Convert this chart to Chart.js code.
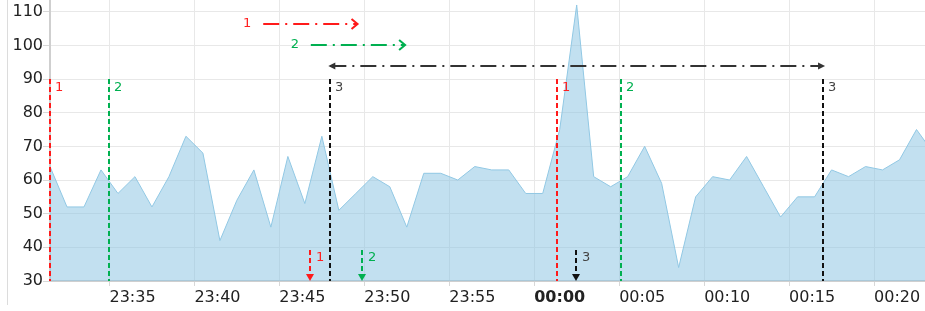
<!DOCTYPE html>
<html>
<head>
<meta charset="utf-8">
<script src="https://cdn.jsdelivr.net/npm/chart.js@4.4.1/dist/chart.umd.min.js"></script>
<style>
  html, body { margin: 0; padding: 0; background: #fff; }
  #wrap { position: relative; width: 925px; height: 311px; }
</style>
</head>
<body>
<div id="wrap"><canvas id="chart" width="925" height="311"></canvas></div>
<script>
// minutes after 23:00, one sample per minute
const times = [31.5, 32.5, 33.5, 34.5, 35.5, 36.5, 37.5, 38.5, 39.5, 40.5,
  41.5, 42.5, 43.5, 44.5, 45.5, 46.5, 47.5, 48.5, 49.5, 50.5,
  51.5, 52.5, 53.5, 54.5, 55.5, 56.5, 57.5, 58.5, 59.5, 60.5,
  61.5, 62.5, 63.5, 64.5, 65.5, 66.5, 67.5, 68.5, 69.5, 70.5,
  71.5, 72.5, 73.5, 74.5, 75.5, 76.5, 77.5, 78.5, 79.5, 80.5,
  81.5, 82.5, 83.5]
const values = [64, 52, 52, 63, 56, 61, 52, 61, 73, 68,
  42, 54, 63, 46, 67, 53, 73, 51, 56, 61,
  58, 46, 62, 62, 60, 64, 63, 63, 56, 56,
  75, 112, 61, 58, 61, 70, 59, 34, 55, 61,
  60, 67, 58, 49, 55, 55, 63, 61, 64, 63,
  66, 75, 68]
const xTicks = [35, 40, 45, 50, 55, 60, 65, 70, 75, 80]
const yTicks = [30, 40, 50, 60, 70, 80, 90, 100, 110]

// annotation marks
const markerTimes = [31.5, 35, 48, 61.35, 65.1, 77]
const markerLabels = ['1', '2', '3', '1', '2', '3']
const markerTop = 90
const rangeStart = [44.05, 46.85, 48]
const rangeEnd = [49.6, 52.4, 77]
const rangeLevel = [106.3, 100.1, 94]
const rangeLabels = ['1', '2', '']
const eventTimes = [46.8, 49.85, 62.45]
const eventLabels = ['1', '2', '3']
const eventTop = 39.2

const lineColors = ['#ff1a1a', '#00b050', '#111111']
const textColors = ['#ff2020', '#00b050', '#444444']
const rangeColors = ['#ff1a1a', '#00b050', '#333333']
const FONT = '"DejaVu Sans", Verdana, sans-serif'

const fmt = (v) => {
  const total = 23 * 60 + v
  const h = Math.floor(total / 60) % 24
  const m = Math.round(total % 60)
  return String(h).padStart(2, '0') + ':' + String(m).padStart(2, '0')
}

const annotations = {
  id: 'annotations',
  beforeDraw(chart) {
    const ctx = chart.ctx
    ctx.save()
    ctx.strokeStyle = '#dcdcdc'
    ctx.lineWidth = 1
    ctx.beginPath()
    ctx.moveTo(7.5, 0)
    ctx.lineTo(7.5, 305)
    ctx.stroke()
    ctx.restore()
  },
  afterDatasetsDraw(chart) {
    const { ctx, scales: { x, y } } = chart
    ctx.save()
    ctx.font = '13px ' + FONT
    ctx.textBaseline = 'top'
    ctx.lineWidth = 2

    // vertical dashed markers
    markerTimes.forEach((t, i) => {
      const c = i % 3
      const px = Math.round(x.getPixelForValue(t))
      const top = y.getPixelForValue(markerTop)
      ctx.strokeStyle = lineColors[c]
      ctx.setLineDash([5, 3])
      ctx.beginPath()
      ctx.moveTo(px, top)
      ctx.lineTo(px, y.getPixelForValue(30))
      ctx.stroke()
      ctx.fillStyle = textColors[c]
      ctx.textAlign = 'left'
      ctx.fillText(markerLabels[i], px + 5, top + 2)
    })

    // horizontal ranges
    rangeStart.forEach((t, i) => {
      const x0 = x.getPixelForValue(t)
      const x1 = x.getPixelForValue(rangeEnd[i])
      const yy = Math.round(y.getPixelForValue(rangeLevel[i]))
      ctx.strokeStyle = rangeColors[i]
      ctx.fillStyle = rangeColors[i]
      ctx.setLineDash([16, 6, 2, 6])
      ctx.beginPath()
      ctx.moveTo(x0, yy)
      ctx.lineTo(x1, yy)
      ctx.stroke()
      ctx.setLineDash([])
      if (i < 2) {
        ctx.beginPath()
        ctx.moveTo(x1 - 6, yy - 5)
        ctx.lineTo(x1, yy)
        ctx.lineTo(x1 - 6, yy + 5)
        ctx.stroke()
      } else {
        ctx.beginPath()
        ctx.moveTo(x0 - 2, yy)
        ctx.lineTo(x0 + 5, yy - 3.5)
        ctx.lineTo(x0 + 5, yy + 3.5)
        ctx.closePath()
        ctx.fill()
        ctx.beginPath()
        ctx.moveTo(x1 + 2, yy)
        ctx.lineTo(x1 - 5, yy - 3.5)
        ctx.lineTo(x1 - 5, yy + 3.5)
        ctx.closePath()
        ctx.fill()
      }
      if (rangeLabels[i]) {
        ctx.fillStyle = textColors[i]
        ctx.textAlign = 'center'
        ctx.textBaseline = 'middle'
        ctx.fillText(rangeLabels[i], x0 - 16, yy)
        ctx.textBaseline = 'top'
      }
    })

    // small event arrows on the bottom
    eventTimes.forEach((t, i) => {
      const px = Math.round(x.getPixelForValue(t))
      const top = y.getPixelForValue(eventTop)
      const bottom = y.getPixelForValue(30)
      ctx.strokeStyle = lineColors[i]
      ctx.fillStyle = lineColors[i]
      ctx.setLineDash([5, 3])
      ctx.beginPath()
      ctx.moveTo(px, top)
      ctx.lineTo(px, bottom - 6)
      ctx.stroke()
      ctx.setLineDash([])
      ctx.beginPath()
      ctx.moveTo(px - 4, bottom - 7)
      ctx.lineTo(px + 4, bottom - 7)
      ctx.lineTo(px, bottom)
      ctx.closePath()
      ctx.fill()
      ctx.fillStyle = textColors[i]
      ctx.textAlign = 'left'
      ctx.fillText(eventLabels[i], px + 6, top + 1)
    })
    ctx.restore()
  }
}

new Chart(document.getElementById('chart'), {
  type: 'line',
  data: {
    labels: times,
    datasets: [{
      data: times.map((t, i) => ({ x: t, y: values[i] })),
      borderColor: 'rgb(145, 200, 228)',
      backgroundColor: 'rgba(133, 193, 225, 0.5)',
      borderWidth: 1,
      fill: 'start',
      pointRadius: 0,
      tension: 0
    }]
  },
  options: {
    responsive: false,
    animation: false,
    layout: { padding: 0 },
    plugins: { legend: { display: false }, tooltip: { enabled: false } },
    scales: {
      x: {
        type: 'linear',
        min: 31.5,
        max: 83,
        afterBuildTicks: (s) => { s.ticks = xTicks.map(v => ({ value: v })) },
        afterFit: (s) => { s.height = 30; s.paddingLeft = 0; s.paddingRight = 0 },
        grid: { color: '#e8e8e8', tickLength: 5, tickColor: '#d8d8d8' },
        border: { color: '#cfcfcf', width: 2 },
        ticks: {
          autoSkip: false,
          maxRotation: 0,
          align: 'start',
          padding: 2,
          color: '#222',
          font: (c) => ({ family: FONT, size: 16, weight: c.tick && c.tick.value === 60 ? 'bold' : 'normal' }),
          callback: (v) => fmt(v)
        }
      },
      y: {
        min: 30,
        max: 113.48,
        afterBuildTicks: (s) => { s.ticks = yTicks.map(v => ({ value: v })) },
        afterFit: (s) => { s.width = 50; s.paddingTop = 0; s.paddingBottom = 0 },
        grid: { color: '#e8e8e8', tickLength: 7, tickColor: '#d8d8d8' },
        border: { color: '#cfcfcf', width: 2 },
        ticks: {
          padding: 0,
          color: '#222',
          font: { family: FONT, size: 16 }
        }
      }
    }
  },
  plugins: [annotations]
})
</script>
</body>
</html>
